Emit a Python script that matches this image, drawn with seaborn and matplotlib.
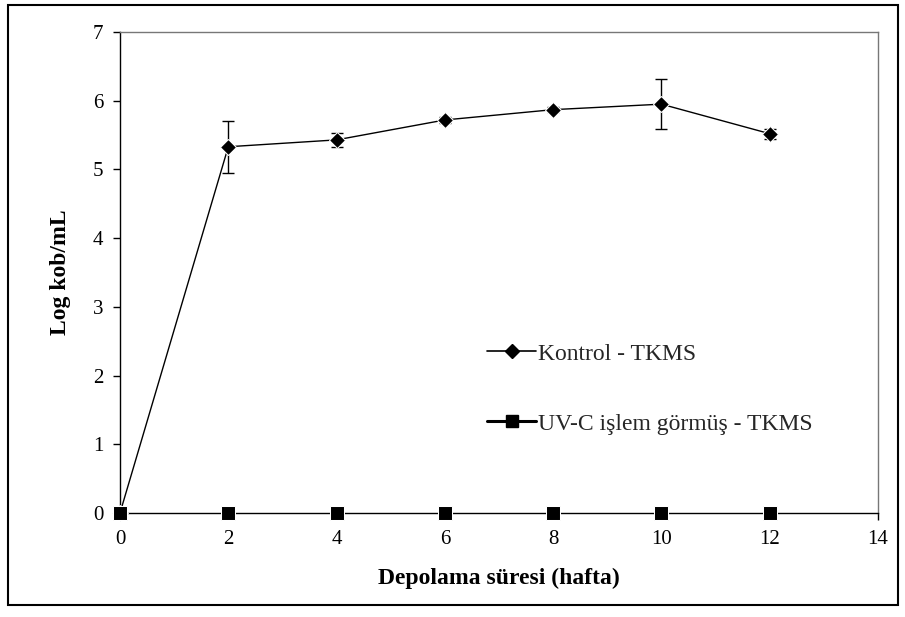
import matplotlib
matplotlib.use("Agg")
import matplotlib.pyplot as plt
import seaborn as sns
import pandas as pd
from matplotlib.patches import Rectangle
from matplotlib.lines import Line2D

weeks = [0, 2, 4, 6, 8, 10, 12]
kontrol = [0.0, 5.33, 5.43, 5.72, 5.87, 5.95, 5.52]
kontrol_err = [0.0, 0.38, 0.10, 0.05, 0.04, 0.36, 0.07]
uvc = [0, 0, 0, 0, 0, 0, 0]
series_names = ["Kontrol - TKMS", "UV-C işlem görmüş - TKMS"]
xlabel = "Depolama süresi (hafta)"
ylabel = "Log kob/mL"

sns.set_theme(style="white")
plt.rcParams['font.family'] = ['Liberation Serif', 'DejaVu Serif']

df = pd.DataFrame({
    "week": weeks * 2,
    "value": kontrol + uvc,
    "series": [series_names[0]] * len(weeks) + [series_names[1]] * len(weeks),
})

fig = plt.figure(figsize=(9.05, 6.17), dpi=100)
ax = fig.add_axes([120 / 905, 1 - 513 / 617, (878 - 120) / 905, (513 - 32) / 617])

sns.lineplot(data=df, x="week", y="value", hue="series", style="series",
             markers={series_names[0]: "D", series_names[1]: "s"},
             dashes=False, palette={series_names[0]: "black", series_names[1]: "black"},
             markersize=8, linewidth=1.0, ax=ax, legend=False, clip_on=False, zorder=3)
ax.lines[1].set_markersize(9.5)
ax.lines[1].set_linewidth(0)
ax.lines[0].set_markersize(8.5)

ax.errorbar(weeks, kontrol, yerr=kontrol_err, fmt="none", ecolor="black",
            elinewidth=1.0, capsize=4.5, capthick=1.0, zorder=2)

ax.set_xlim(0, 14)
ax.set_ylim(0, 7)
ax.set_xticks(range(0, 15, 2))
ax.set_yticks(range(0, 8))
ax.tick_params(axis="both", direction="out", length=5, width=1, colors="black",
               labelsize=15, bottom=True, left=True, pad=7)
for s in ax.spines.values():
    s.set_color("black")
    s.set_linewidth(1.0)
ax.spines["top"].set_color("#777777")
ax.spines["right"].set_color("#777777")
ax.set_xlabel(xlabel, fontsize=17, fontweight="bold", color="black", labelpad=14)
ax.set_ylabel(ylabel, fontsize=17, fontweight="bold", color="black", labelpad=16)

handles = [Line2D([], [], color="black", marker="D", markersize=7.5, linewidth=1.2),
           Line2D([], [], color="black", marker="s", markersize=9, linewidth=2.2)]
ax.legend(handles, series_names, loc="center left", bbox_to_anchor=(0.456, 0.258),
          frameon=False, fontsize=17, handlelength=2.1, labelspacing=2.05,
          handletextpad=0.05)

fig.add_artist(Rectangle((8 / 905, 1 - 605 / 617), (898 - 8) / 905, (605 - 5) / 617,
                         transform=fig.transFigure, fill=False, edgecolor="black",
                         linewidth=1.5))

fig.savefig("out.png", dpi=100)
